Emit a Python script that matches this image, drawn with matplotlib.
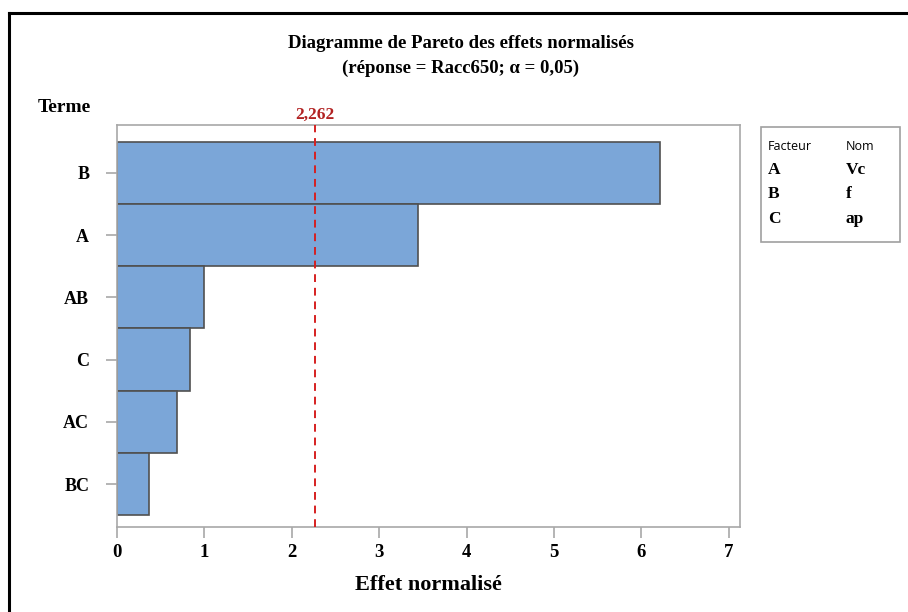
import matplotlib
matplotlib.use("Agg")
import matplotlib.pyplot as plt
from matplotlib.lines import Line2D
from matplotlib.patches import Rectangle

terms = ["B", "A", "AB", "C", "AC", "BC"]
effects = [6.22, 3.45, 1.00, 0.83, 0.69, 0.37]
threshold = 2.262
threshold_label = "2,262"
x_ticks = [0, 1, 2, 3, 4, 5, 6, 7]
legend_factors = ["A", "B", "C"]
legend_names = ["Vc", "f", "ap"]

W, H = 908, 612
fig = plt.figure(figsize=(W / 100, H / 100), dpi=100)
serif = "Liberation Serif"

def fx(px):
    return px / W

def fy(py):
    return 1 - py / H

# outer frame
fig.add_artist(Line2D([fx(8.5), fx(8.5)], [fy(12.5), 0], color="black", lw=2.2, transform=fig.transFigure))
fig.add_artist(Line2D([fx(8.5), 1], [fy(12.5), fy(12.5)], color="black", lw=2.2, transform=fig.transFigure))

left, right, top, bottom = 117, 740, 125, 527
ax = fig.add_axes([fx(left), fy(bottom), fx(right - left), (bottom - top) / H])

n = len(terms)
ypos = list(range(n - 1, -1, -1))
ax.barh(ypos, effects, height=1.0, color="#7BA6D8", edgecolor="#505050", linewidth=1.2, zorder=2)
ax.axvline(threshold, color="#D62020", ls=(0, (4, 3)), lw=1.4, zorder=3)

for s in ax.spines.values():
    s.set_color("#A8A8A8")
    s.set_linewidth(1.2)

ax.set_xlim(0, 7.13)
ax.set_ylim(-0.69, n - 0.5 + 0.27)
ax.set_yticks(ypos)
ax.set_yticklabels(terms, fontfamily=serif, fontweight="bold", fontsize=13)
ax.set_xticks(x_ticks)
ax.set_xticklabels([str(t) for t in x_ticks], fontfamily=serif, fontweight="bold", fontsize=13.5)
ax.tick_params(axis="both", color="#A8A8A8", length=8, width=1.2)
ax.tick_params(axis="y", pad=12)
ax.tick_params(axis="x", pad=4)

ax.set_xlabel("Effet normalisé", fontfamily=serif, fontweight="bold", fontsize=16, labelpad=10)

ax.text(threshold, 1.005, threshold_label, transform=ax.get_xaxis_transform(),
        ha="center", va="bottom", color="#B22222", fontfamily=serif, fontweight="bold", fontsize=12.5)

fig.text(fx(461), fy(44), "Diagramme de Pareto des effets normalisés", ha="center", va="center",
         fontfamily=serif, fontweight="bold", fontsize=13.5)
fig.text(fx(461), fy(68), "(réponse = Racc650; α = 0,05)", ha="center", va="center",
         fontfamily=serif, fontweight="bold", fontsize=13.5)
fig.text(fx(38), fy(107), "Terme", ha="left", va="center", fontfamily=serif, fontweight="bold", fontsize=14)

# legend box
fig.add_artist(Rectangle((fx(761), fy(242)), fx(900 - 761), (242 - 127) / H, transform=fig.transFigure,
                         facecolor="white", edgecolor="#A0A0A0", lw=1.2))
fig.text(fx(768), fy(146), "Facteur", ha="left", va="center", fontfamily="Open Sans", fontsize=9)
fig.text(fx(846), fy(146), "Nom", ha="left", va="center", fontfamily="Open Sans", fontsize=9)
for i, (f, nm) in enumerate(zip(legend_factors, legend_names)):
    y = 170 + i * 24.5
    fig.text(fx(768), fy(y), f, ha="left", va="center", fontfamily=serif, fontweight="bold", fontsize=12.5)
    fig.text(fx(846), fy(y), nm, ha="left", va="center", fontfamily=serif, fontweight="bold", fontsize=12.5)

fig.savefig("out.png", dpi=100, facecolor="white")
